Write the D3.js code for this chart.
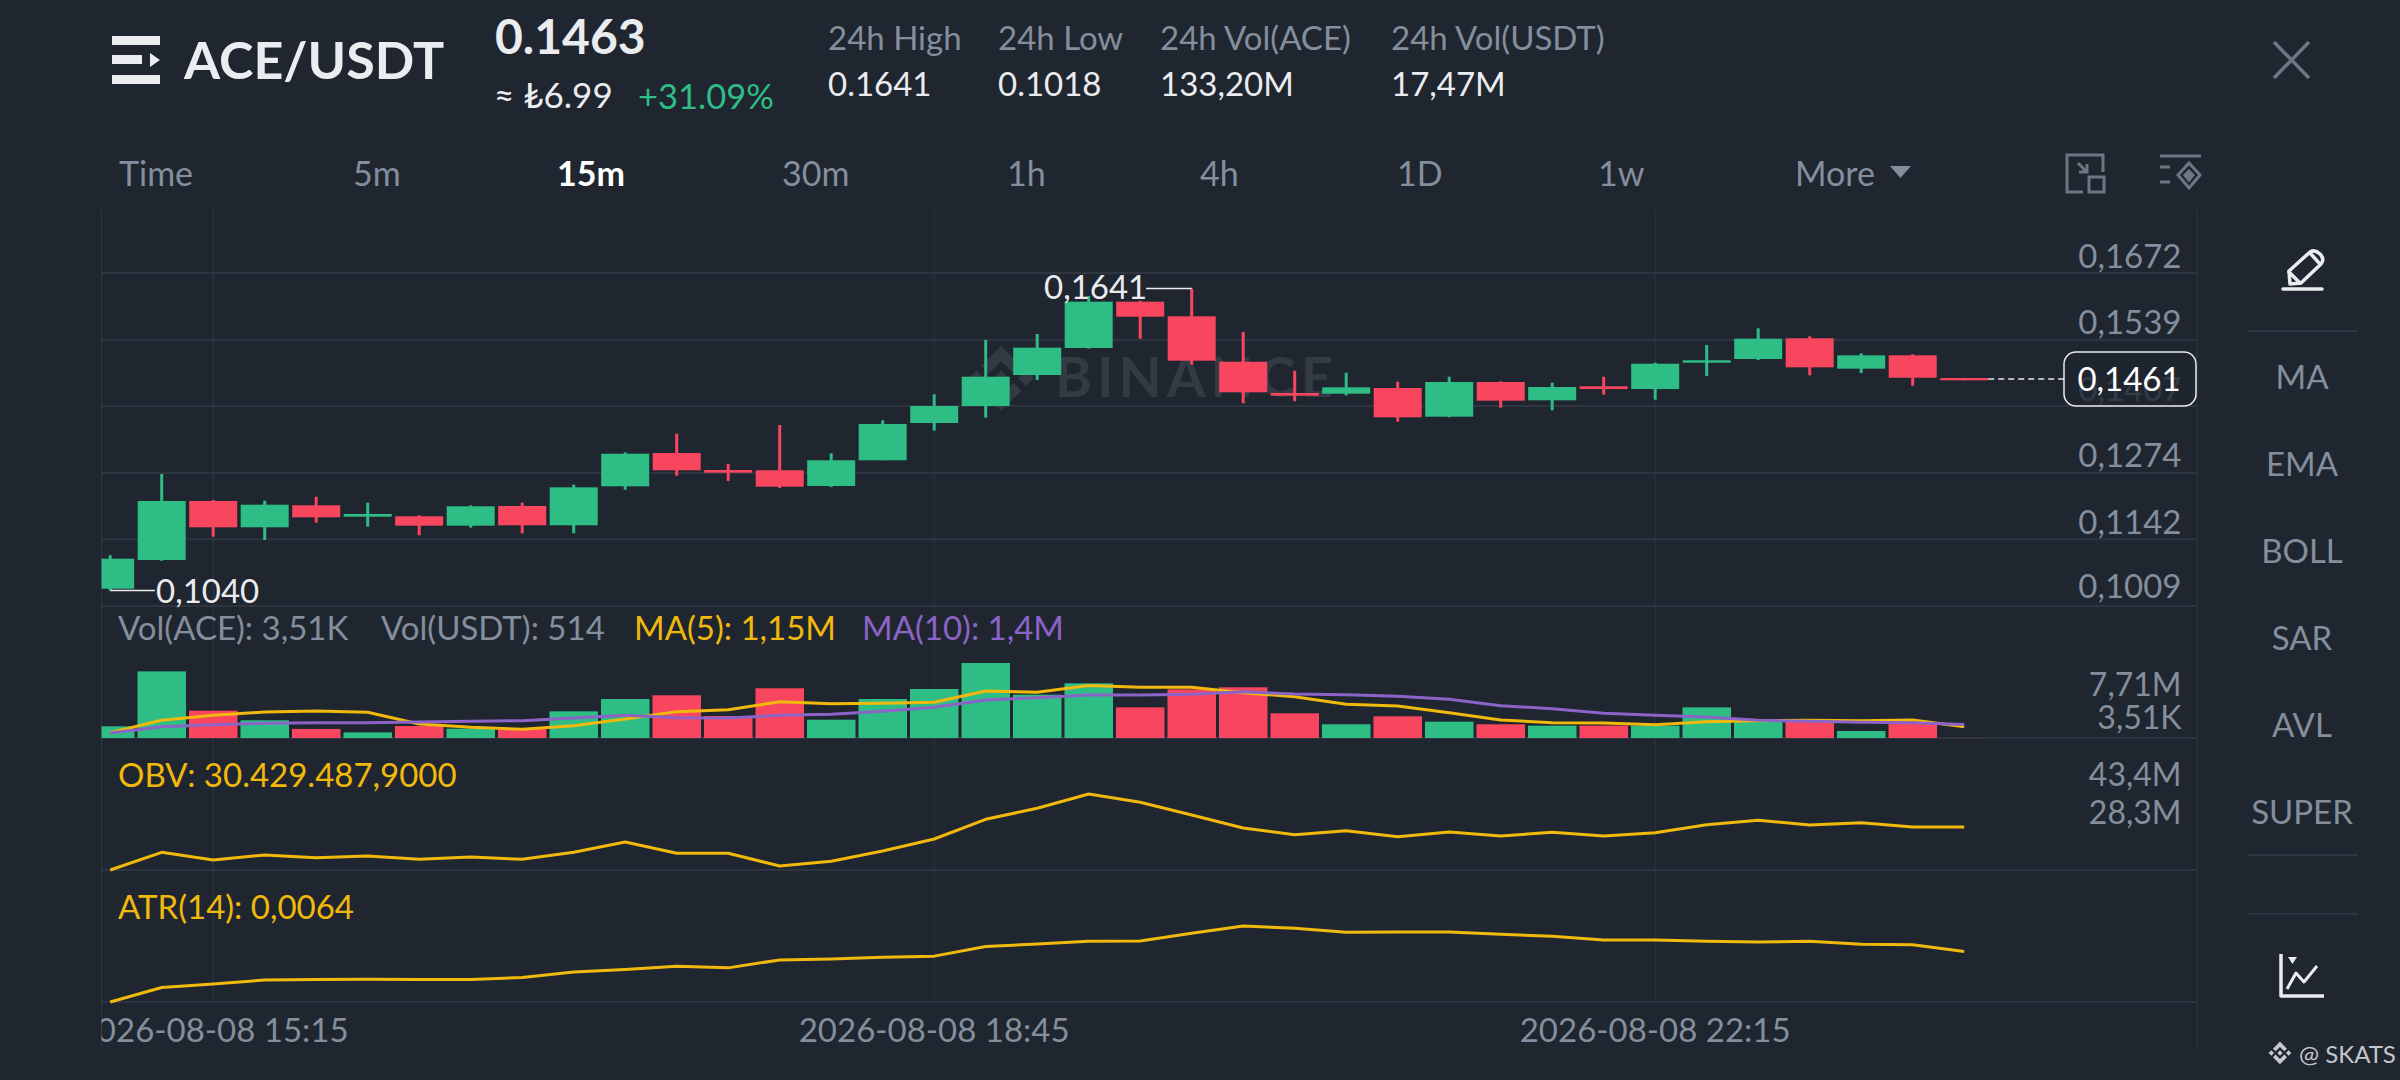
<!DOCTYPE html>
<html>
<head>
<meta charset="utf-8">
<title>ACE/USDT</title>
<script src="https://cdn.jsdelivr.net/npm/d3@7"></script>
<style>
  html, body { margin: 0; padding: 0; background: #1f2630; }
  svg { display: block; }
  text { font-family: Lato, "Open Sans", sans-serif; }
</style>
</head>
<body>
<svg id="chart"></svg>
<script>
const W = 2400;
const H = 1080;

// ── Data ──────────────────────────────────────────────────────────────────────

const opens = [
  0.10434, 0.11006, 0.12181, 0.11657, 0.12095, 0.11868, 0.11876, 0.11689, 0.12081, 0.11697,
  0.12473, 0.13136, 0.12798, 0.12792, 0.12479, 0.12991, 0.13733, 0.14072, 0.14689, 0.15227,
  0.16149, 0.15858, 0.14954, 0.14331, 0.14317, 0.14430, 0.13859, 0.14550, 0.14185, 0.14464,
  0.14410, 0.14934, 0.15008, 0.15420, 0.14815, 0.15081, 0.14629,
];
const closes = [
  0.11032, 0.12181, 0.11657, 0.12107, 0.11856, 0.11922, 0.11689, 0.12075, 0.11697, 0.12453,
  0.13122, 0.12792, 0.12744, 0.12465, 0.12991, 0.13714, 0.14072, 0.14655, 0.15233, 0.16149,
  0.15850, 0.14974, 0.14345, 0.14277, 0.14444, 0.13847, 0.14550, 0.14178, 0.14450, 0.14410,
  0.14914, 0.14982, 0.15412, 0.14842, 0.15081, 0.14635, 0.14584,
];
const highs = [
  0.11099, 0.12718, 0.12200, 0.12187, 0.12266, 0.12147, 0.11896, 0.12095, 0.12147, 0.12505,
  0.13150, 0.13520, 0.12917, 0.13694, 0.13130, 0.13787, 0.14305, 0.15386, 0.15505, 0.16262,
  0.16169, 0.16410, 0.15545, 0.14775, 0.14735, 0.14556, 0.14655, 0.14564, 0.14536, 0.14655,
  0.14934, 0.15286, 0.15619, 0.15460, 0.15121, 0.15101, 0.14629,
];
const lows = [
  0.10400, 0.10992, 0.11470, 0.11404, 0.11748, 0.11669, 0.11498, 0.11649, 0.11537, 0.11537,
  0.12405, 0.12684, 0.12579, 0.12439, 0.12459, 0.12991, 0.13580, 0.13839, 0.14590, 0.15213,
  0.15412, 0.14894, 0.14126, 0.14166, 0.14285, 0.13759, 0.13847, 0.14038, 0.13986, 0.14297,
  0.14197, 0.14669, 0.14988, 0.14683, 0.14729, 0.14476, 0.14584,
];
const volumes = [
  1.20, 6.85, 2.81, 1.82, 0.93, 0.58, 1.23, 0.96, 0.96, 2.74,
  4.01, 4.39, 2.26, 5.11, 1.88, 4.01, 5.04, 7.71, 4.45, 5.62,
  3.15, 5.00, 5.21, 2.54, 1.41, 2.23, 1.68, 1.41, 1.27, 1.27,
  1.27, 3.15, 1.68, 1.68, 0.72, 1.54, 0.0035,
];
const ma5 = [
  0.55, 1.82, 2.33, 2.67, 2.78, 2.64, 1.44, 1.10, 0.89, 1.27,
  1.95, 2.71, 2.91, 3.73, 3.53, 3.57, 3.67, 4.83, 4.70, 5.40,
  5.21, 5.21, 4.66, 4.25, 3.46, 3.29, 2.60, 1.85, 1.57, 1.54,
  1.37, 1.68, 1.78, 1.82, 1.78, 1.85, 1.15,
];
const ma10 = [
  0.51, 1.16, 1.37, 1.51, 1.58, 1.58, 1.64, 1.71, 1.78, 2.06,
  2.33, 2.09, 2.06, 2.33, 2.43, 2.74, 3.15, 3.91, 4.15, 4.42,
  4.42, 4.49, 4.76, 4.52, 4.45, 4.28, 3.98, 3.32, 3.01, 2.54,
  2.33, 2.16, 1.82, 1.71, 1.61, 1.58, 1.40,
];
const obv = [
  13.53, 20.48, 17.46, 19.43, 18.38, 19.03, 17.73, 18.63, 17.73, 20.48,
  24.53, 20.09, 20.09, 15.10, 16.95, 21.00, 25.71, 33.46, 37.78, 43.40,
  40.13, 35.15, 30.04, 27.40, 28.98, 26.60, 28.46, 26.89, 28.33, 26.89,
  28.20, 31.33, 33.06, 31.22, 32.12, 30.43, 30.43,
];
const atr = [
  0.00197, 0.00325, 0.00355, 0.00390, 0.00395, 0.00398, 0.00395, 0.00395, 0.00412, 0.00460,
  0.00482, 0.00512, 0.00497, 0.00567, 0.00576, 0.00591, 0.00600, 0.00684, 0.00707, 0.00731,
  0.00734, 0.00801, 0.00865, 0.00845, 0.00810, 0.00812, 0.00812, 0.00792, 0.00775, 0.00742,
  0.00742, 0.00731, 0.00725, 0.00731, 0.00705, 0.00701, 0.00640,
];

const priceTicks = [0.1672, 0.1539, 0.1407, 0.1274, 0.1142, 0.1009];
const timeTicks = [
  { index: 2,  label: '2026-08-08 15:15' },
  { index: 16, label: '2026-08-08 18:45' },
  { index: 30, label: '2026-08-08 22:15' },
];
const tabs = ['Time', '5m', '15m', '30m', '1h', '4h', '1D', '1w', 'More'];
const tabX = [119, 353, 557, 782, 1007, 1200, 1397, 1598, 1795];
const sideLabels = ['MA', 'EMA', 'BOLL', 'SAR', 'AVL', 'SUPER'];
const stats = [
  { name: '24h High',      value: '0.1641',  x: 828 },
  { name: '24h Low',       value: '0.1018',  x: 998 },
  { name: '24h Vol(ACE)',  value: '133,20M', x: 1160 },
  { name: '24h Vol(USDT)', value: '17,47M',  x: 1391 },
];

// ── Colors ────────────────────────────────────────────────────────────────────

const BG     = '#1f2630';
const GRID   = '#2f3540';
const GREEN  = '#2ebd85';
const RED    = '#f9465f';
const YELLOW = '#f0b90b';
const PURPLE = '#8c63c6';
const MUTED  = '#848e9c';
const WHITE  = '#eaecef';

// ── Scales ────────────────────────────────────────────────────────────────────

const LEFT = 101.5;
const RIGHT = 2197;

const x = d3.scaleLinear().domain([0, 36]).range([110.2, 1964.2]);
const yPrice = d3.scaleLinear().domain([0.1009, 0.1672]).range([606, 273]);
const yVol = d3.scaleLinear().domain([0, 7.71]).range([738, 663]);
const yObv = d3.scaleLinear().domain([13.53, 43.4]).range([870, 794]);
const yAtr = d3.scaleLinear().domain([0.00197, 0.00865]).range([1002, 926]);

const CANDLE_W = 48;
const isUp = i => closes[i] >= opens[i];
const candleColor = i => isUp(i) ? GREEN : RED;

// ── SVG ───────────────────────────────────────────────────────────────────────

const svg = d3.select('#chart').attr('width', W).attr('height', H);
svg.append('rect').attr('width', W).attr('height', H).attr('fill', BG);

const defs = svg.append('defs');
defs.append('clipPath').attr('id', 'plot')
  .append('rect').attr('x', LEFT).attr('y', 210).attr('width', RIGHT - LEFT).attr('height', 840);

function label(txt, px, py, size, color, opts = {}) {
  return svg.append('text')
    .attr('x', px).attr('y', py)
    .attr('font-size', size)
    .attr('fill', color)
    .attr('font-weight', opts.weight || 400)
    .attr('text-anchor', opts.anchor || 'start')
    .text(txt);
}

// ── Grid ──────────────────────────────────────────────────────────────────────

const hLines = [...priceTicks.map(d => yPrice(d)), 738, 870, 1002];
svg.append('g').selectAll('line').data(hLines).join('line')
  .attr('x1', LEFT).attr('x2', RIGHT)
  .attr('y1', d => d).attr('y2', d => d)
  .attr('stroke', GRID).attr('stroke-width', 2);

svg.append('g').selectAll('line').data(timeTicks).join('line')
  .attr('x1', d => x(d.index)).attr('x2', d => x(d.index))
  .attr('y1', 210).attr('y2', 1002)
  .attr('stroke', GRID).attr('stroke-width', 1);

svg.append('g').selectAll('line').data([LEFT, RIGHT]).join('line')
  .attr('x1', d => d).attr('x2', d => d)
  .attr('y1', 210).attr('y2', 1050)
  .attr('stroke', GRID).attr('stroke-width', 1);

// ── Watermark ─────────────────────────────────────────────────────────────────

const LOGO = 'M12 1.5L18.5 8L16 10.5L12 6.5L8 10.5L5.5 8Z M12 22.5L5.5 16L8 13.5L12 17.5L16 13.5L18.5 16Z ' +
  'M12 9.5L14.5 12L12 14.5L9.5 12Z M4 9.5L6.5 12L4 14.5L1.5 12Z M20 9.5L22.5 12L20 14.5L17.5 12Z';

svg.append('path').attr('d', LOGO).attr('fill', '#343a44')
  .attr('transform', 'translate(964,341) scale(3.1)');
label('BINANCE', 1055, 397, 56, '#343a44', { weight: 700 }).attr('letter-spacing', 5);

// ── Candles ───────────────────────────────────────────────────────────────────

const plot = svg.append('g').attr('clip-path', 'url(#plot)');
const idx = d3.range(opens.length);

plot.append('g').selectAll('line').data(idx).join('line')
  .attr('x1', i => x(i)).attr('x2', i => x(i))
  .attr('y1', i => yPrice(highs[i])).attr('y2', i => yPrice(lows[i]))
  .attr('stroke', candleColor).attr('stroke-width', 3);

plot.append('g').selectAll('rect').data(idx).join('rect')
  .attr('x', i => x(i) - CANDLE_W / 2)
  .attr('width', CANDLE_W)
  .attr('y', i => yPrice(Math.max(opens[i], closes[i])))
  .attr('height', i => Math.max(2, Math.abs(yPrice(opens[i]) - yPrice(closes[i]))))
  .attr('fill', candleColor);

// high / low callouts
const hiY = yPrice(0.1641);
const loY = yPrice(0.1040);
svg.append('line').attr('x1', 1146).attr('x2', x(21)).attr('y1', hiY).attr('y2', hiY)
  .attr('stroke', WHITE).attr('stroke-width', 1.5);
label('0,1641', 1044, 299, 33, WHITE);
svg.append('line').attr('x1', x(0)).attr('x2', 155).attr('y1', loY).attr('y2', loY)
  .attr('stroke', WHITE).attr('stroke-width', 1.5);
label('0,1040', 156, 603, 33, WHITE);

// ── Volume ────────────────────────────────────────────────────────────────────

plot.append('g').selectAll('rect').data(idx).join('rect')
  .attr('x', i => x(i) - 24.2)
  .attr('width', 48.5)
  .attr('y', i => yVol(volumes[i]))
  .attr('height', i => yVol(0) - yVol(volumes[i]))
  .attr('fill', candleColor);

function drawLine(values, y, color) {
  const line = d3.line().x((d, i) => x(i)).y(d => y(d));
  plot.append('path').attr('d', line(values))
    .attr('fill', 'none').attr('stroke', color).attr('stroke-width', 3)
    .attr('stroke-linejoin', 'round');
}

drawLine(ma5, yVol, YELLOW);
drawLine(ma10, yVol, PURPLE);
drawLine(obv, yObv, YELLOW);
drawLine(atr, yAtr, YELLOW);

// ── Axis labels ───────────────────────────────────────────────────────────────

const AXIS_X = 2181.5;
priceTicks.forEach((d, i) => {
  const txt = d3.format('.4f')(d).replace('.', ',');
  const lift = i === priceTicks.length - 1 ? 8 : 5.5;
  label(txt, AXIS_X, yPrice(d) - lift, 33, MUTED, { anchor: 'end' });
});
label('7,71M', AXIS_X, 696, 32, MUTED, { anchor: 'end' });
label('3,51K', AXIS_X, 729, 32, MUTED, { anchor: 'end' });
label('43,4M', AXIS_X, 786, 32, MUTED, { anchor: 'end' });
label('28,3M', AXIS_X, 824, 32, MUTED, { anchor: 'end' });

timeTicks.forEach(d => {
  label(d.label, x(d.index), 1041.5, 33, MUTED, { anchor: 'middle' }).attr('clip-path', 'url(#plot)');
});

// current price tag
const lastY = yPrice(0.1461);
svg.append('line').attr('x1', x(36) + 24).attr('x2', 2064).attr('y1', lastY).attr('y2', lastY)
  .attr('stroke', WHITE).attr('stroke-width', 1.5).attr('stroke-dasharray', '6 4');
svg.append('rect').attr('x', 2064).attr('y', 352).attr('width', 132).attr('height', 54).attr('rx', 12)
  .attr('fill', BG).attr('fill-opacity', 0.8)
  .attr('stroke', WHITE).attr('stroke-width', 1.5);
label('0,1461', 2129, 391, 33, '#ffffff', { anchor: 'middle' });

// ── Pane legends ──────────────────────────────────────────────────────────────

label('Vol(ACE): 3,51K', 118, 639.5, 33, MUTED);
label('Vol(USDT): 514', 381, 639.5, 33, MUTED);
label('MA(5): 1,15M', 634, 639.5, 33, YELLOW);
label('MA(10): 1,4M', 862, 639.5, 33, PURPLE);
label('OBV: 30.429.487,9000', 118, 786.5, 33, YELLOW);
label('ATR(14): 0,0064', 118, 918.5, 33, YELLOW);

// ── Header ────────────────────────────────────────────────────────────────────

const menu = svg.append('g').attr('fill', WHITE);
menu.append('rect').attr('x', 112).attr('y', 36).attr('width', 48).attr('height', 9);
menu.append('rect').attr('x', 112).attr('y', 55).attr('width', 30).attr('height', 9);
menu.append('path').attr('d', 'M150 53L160 60L150 67Z');
menu.append('rect').attr('x', 112).attr('y', 75).attr('width', 48).attr('height', 9);

label('ACE/USDT', 184, 79, 52, WHITE, { weight: 700 });
label('0.1463', 495, 53.5, 48, WHITE, { weight: 700 });
label('≈ ₺6.99', 494, 108, 35, WHITE);
label('+31.09%', 638, 109, 34.5, GREEN);

stats.forEach(s => {
  label(s.name, s.x, 49.5, 33, MUTED);
  label(s.value, s.x, 96, 33, WHITE);
});

svg.append('path').attr('d', 'M2274 42L2309 78M2309 42L2274 78')
  .attr('stroke', '#6f7682').attr('stroke-width', 3.5).attr('fill', 'none');

tabs.forEach((t, i) => {
  const active = t === '15m';
  label(t, tabX[i], 186, 34, active ? '#ffffff' : MUTED, { weight: active ? 700 : 400 });
});
svg.append('path').attr('d', 'M1890 166H1911L1900.5 178Z').attr('fill', MUTED);

// toolbar icons
const icons = svg.append('g').attr('fill', 'none').attr('stroke', '#6f7682').attr('stroke-width', 3);
icons.append('path').attr('d', 'M2083 192H2067V155H2103V172');
icons.append('rect').attr('x', 2089).attr('y', 177).attr('width', 15).attr('height', 15);
icons.append('path').attr('d', 'M2078 163L2087 172M2087 164V172H2079');
icons.append('path').attr('d', 'M2160 156H2201M2160 167H2170M2160 182H2170');
icons.append('path').attr('d', 'M2189 163L2200 175L2189 188L2178 175Z');
icons.append('path').attr('d', 'M2189 171L2193 175L2189 180L2185 175Z').attr('fill', '#6f7682');

// ── Sidebar ───────────────────────────────────────────────────────────────────

const sideX = 2302;
sideLabels.forEach((t, i) => {
  label(t, sideX, 389 + i * 87, 33, MUTED, { anchor: 'middle' });
});

svg.append('g').selectAll('line').data([331, 855, 914]).join('line')
  .attr('x1', 2247).attr('x2', 2358)
  .attr('y1', d => d).attr('y2', d => d)
  .attr('stroke', GRID).attr('stroke-width', 2);

const pencil = svg.append('g').attr('fill', 'none').attr('stroke', WHITE)
  .attr('stroke-width', 3.5).attr('stroke-linejoin', 'round').attr('stroke-linecap', 'round');
pencil.append('path').attr('d', 'M2289 271L2310 252Q2315 249 2320 254Q2325 259 2321 264L2301 283L2290 284Z');
pencil.append('path').attr('d', 'M2289 272L2300 283M2310 253L2320 264');
pencil.append('path').attr('d', 'M2283 289H2322');

const chartIcon = svg.append('g').attr('fill', 'none').attr('stroke', WHITE)
  .attr('stroke-width', 3).attr('stroke-linejoin', 'round');
chartIcon.append('path').attr('d', 'M2281 954V996H2324').attr('stroke-width', 3.5);
chartIcon.append('path').attr('d', 'M2287 989L2296 973L2304 982L2317 966');
svg.append('path').attr('d', 'M2288 957H2297L2292.5 964Z').attr('fill', WHITE);

// ── Footer ────────────────────────────────────────────────────────────────────

svg.append('path').attr('d', LOGO).attr('fill', '#c4c8ce')
  .attr('transform', 'translate(2267,1040) scale(1.08)');
label('@ SKATS', 2299, 1063, 24, '#c4c8ce');
</script>
</body>
</html>
